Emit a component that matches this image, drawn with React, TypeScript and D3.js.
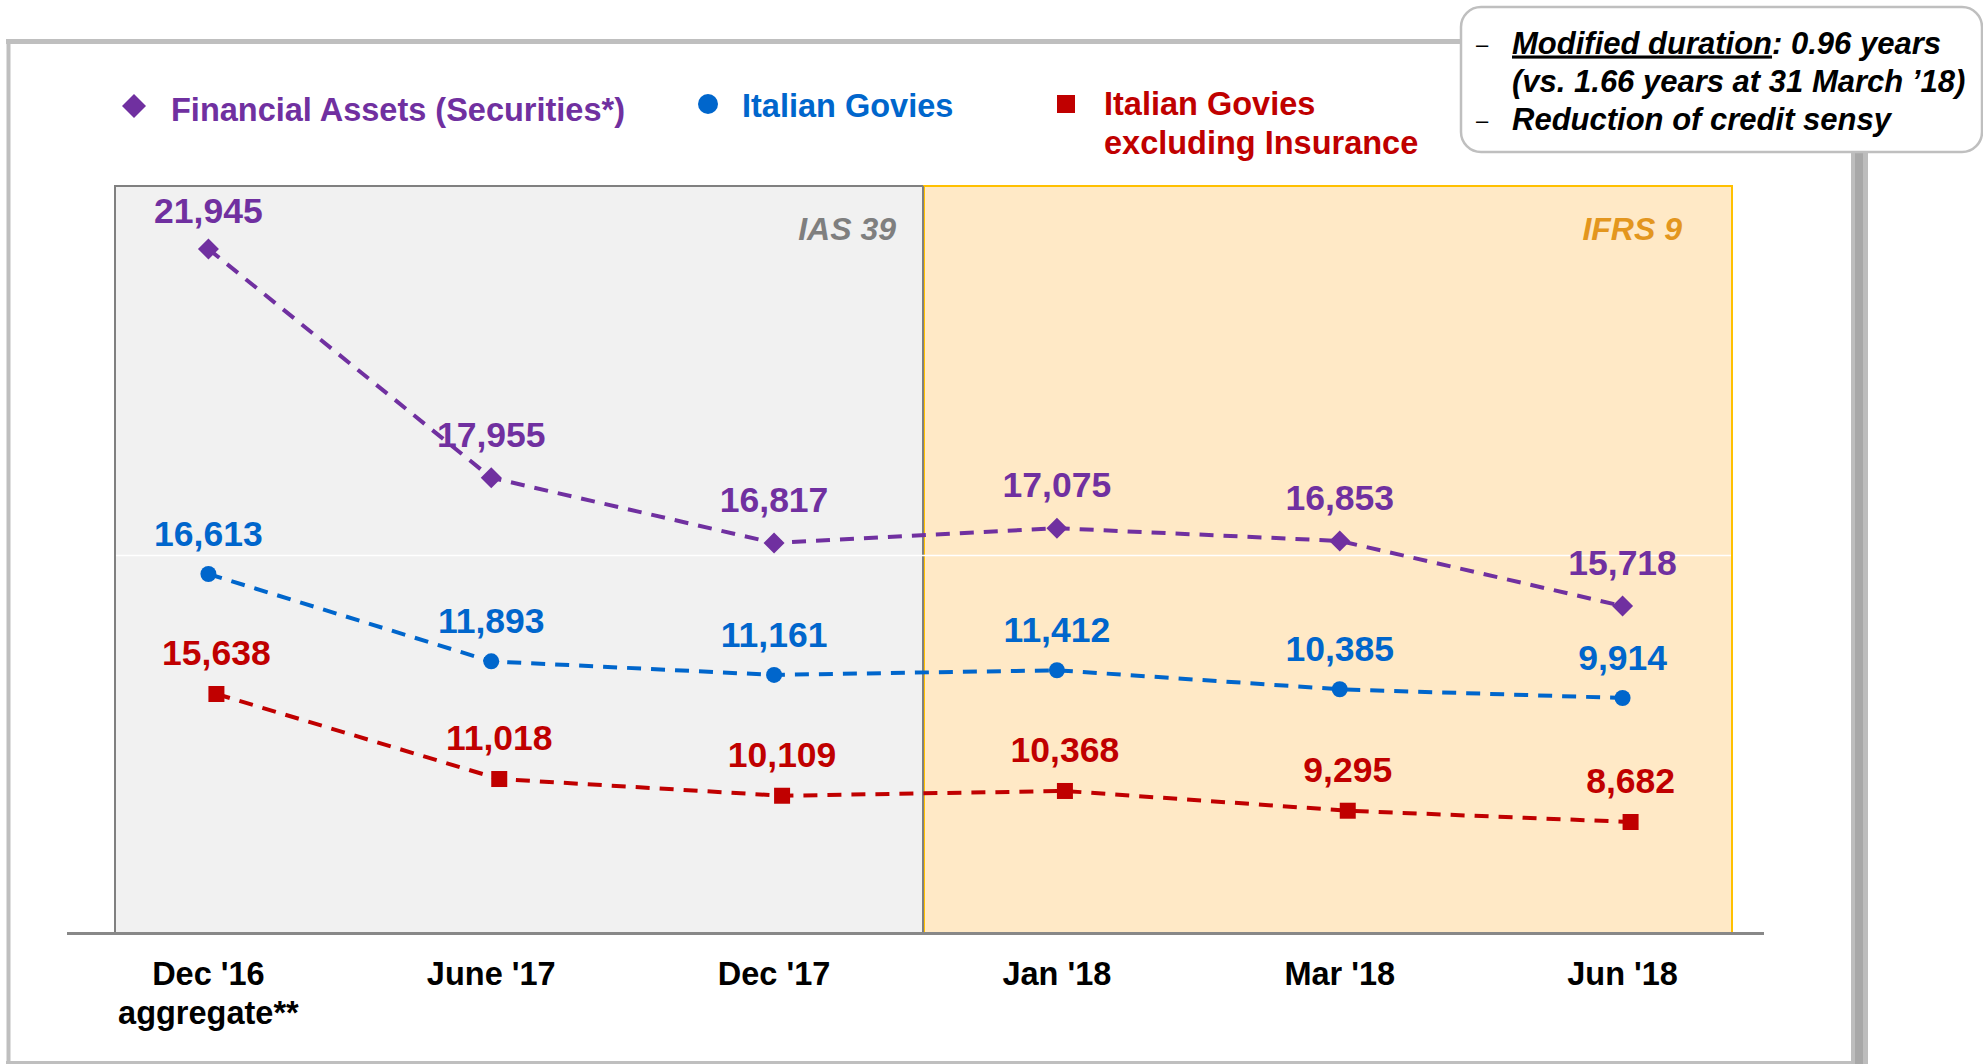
import React from "react";
import * as d3 from "d3";

const categories = ["Dec '16|aggregate**", "June '17", "Dec '17", "Jan '18", "Mar '18", "Jun '18"];
const financialAssets = [21945, 17955, 16817, 17075, 16853, 15718];
const italianGovies = [16613, 11893, 11161, 11412, 10385, 9914];
const goviesExInsurance = [15638, 11018, 10109, 10368, 9295, 8682];
const regimeLabels = ["IAS 39", "IFRS 9"];
const legendLabels = ["Financial Assets (Securities*)", "Italian Govies", "Italian Govies|excluding Insurance"];
const noteLines = [
  { dash: true, parts: [{ t: "Modified duration", u: true }, { t: ": 0.96 years", u: false }] },
  { dash: false, parts: [{ t: "(vs. 1.66 years at 31 March \u201918)", u: false }] },
  { dash: true, parts: [{ t: "Reduction of credit sensy", u: false }] },
];

const W = 1983;
const H = 1064;
const FONT = "'Liberation Sans', Arial, sans-serif";
const PURPLE = "#7030A0";
const BLUE = "#0066CC";
const RED = "#C00000";

// plot frame
const plotTop = 186;
const plotBottom = 933;
const plotLeft = 115;
const plotRight = 1732;
const divider = 923;

const x = d3.scaleBand<string>().domain(categories).range([67, 1764]).padding(0);
const cx = (c: string) => (x(c) ?? 0) + x.bandwidth() / 2;

// each series sits on its own vertical scale in the original slide
const yFin = d3.scaleLinear().domain([15718, 21945]).range([606, 249]);
const yGov = d3.scaleLinear().domain([9914, 16613]).range([698, 574]);
const yEx = d3.scaleLinear().domain([8682, 15638]).range([822, 694]);

const fmt = d3.format(",");

type Series = {
  values: number[];
  y: d3.ScaleLinear<number, number>;
  color: string;
  shape: "diamond" | "circle" | "square";
  dx: number;
  labelOff: number;
};

const series: Series[] = [
  { values: financialAssets, y: yFin, color: PURPLE, shape: "diamond", dx: 0, labelOff: 31 },
  { values: italianGovies, y: yGov, color: BLUE, shape: "circle", dx: 0, labelOff: 28 },
  { values: goviesExInsurance, y: yEx, color: RED, shape: "square", dx: 8, labelOff: 29 },
];

function Marker({ shape, px, py, color, size }: { shape: string; px: number; py: number; color: string; size: number }) {
  if (shape === "circle") return <circle cx={px} cy={py} r={size / 2} fill={color} />;
  if (shape === "square")
    return <rect x={px - size / 2} y={py - size / 2} width={size} height={size} fill={color} />;
  const s = size / Math.SQRT2;
  return (
    <rect x={-s / 2} y={-s / 2} width={s} height={s} fill={color} transform={`translate(${px},${py}) rotate(45)`} />
  );
}

export default function App() {
  return (
    <svg width={W} height={H} style={{ position: "absolute", left: 0, top: 0, background: "#fff" }} fontFamily={FONT}>
      {/* outer frame */}
      <line x1={6} x2={1462} y1={41.5} y2={41.5} stroke="#BFBFBF" strokeWidth={5} />
      <line x1={8.5} x2={8.5} y1={40} y2={1063} stroke="#BFBFBF" strokeWidth={4} />
      <line x1={6} x2={1856} y1={1062.5} y2={1062.5} stroke="#BFBFBF" strokeWidth={3} />
      <rect x={1851} y={150} width={17} height={H - 150} fill="#BDBDBD" />
      <rect x={1855} y={150} width={8} height={H - 150} fill="#A8A8A8" />

      {/* note box */}
      <rect x={1461} y={7} width={521} height={145} rx={20} fill="#fff" stroke="#BFBFBF" strokeWidth={2.5} />
      {noteLines.map((ln, i) => (
        <g key={i}>
          {ln.dash && (
            <text x={1476} y={52 + i * 38} fontSize={22} fill="#000">
              {"\u2013"}
            </text>
          )}
          <text x={1512} y={53.5 + i * 38} fontSize={31} fontWeight="bold" fontStyle="italic" fill="#000">
            {ln.parts.map((p, j) => (
              <tspan key={j} textDecoration={p.u ? "underline" : undefined}>
                {p.t}
              </tspan>
            ))}
          </text>
        </g>
      ))}

      {/* legend */}
      <Marker shape="diamond" px={134} py={106} color={PURPLE} size={24} />
      <text x={171} y={121} fontSize={32.5} fontWeight="bold" fill={PURPLE}>
        {legendLabels[0]}
      </text>
      <Marker shape="circle" px={708} py={104} color={BLUE} size={20} />
      <text x={742} y={117} fontSize={32.5} fontWeight="bold" fill={BLUE}>
        {legendLabels[1]}
      </text>
      <Marker shape="square" px={1066} py={104} color={RED} size={18} />
      {legendLabels[2].split("|").map((t, i) => (
        <text key={i} x={1104} y={115 + i * 39} fontSize={32.5} fontWeight="bold" fill={RED}>
          {t}
        </text>
      ))}

      {/* regime panels */}
      <rect x={plotLeft} y={plotTop} width={divider - plotLeft} height={plotBottom - plotTop} fill="#F1F1F1" stroke="#808080" strokeWidth={2} />
      <rect x={divider + 1} y={plotTop} width={plotRight - divider - 1} height={plotBottom - plotTop} fill="#FFE9C6" stroke="#FFC000" strokeWidth={2} />
      <line x1={divider} x2={divider} y1={plotTop} y2={plotBottom} stroke="#808080" strokeWidth={2} />
      <line x1={plotLeft + 1} x2={plotRight - 1} y1={555.5} y2={555.5} stroke="#fff" strokeWidth={1.5} />
      <text x={divider - 27} y={240} fontSize={32} fontWeight="bold" fontStyle="italic" fill="#7F7F7F" textAnchor="end">
        {regimeLabels[0]}
      </text>
      <text x={plotRight - 50} y={240} fontSize={32} fontWeight="bold" fontStyle="italic" fill="#E3961E" textAnchor="end">
        {regimeLabels[1]}
      </text>

      {/* axis */}
      <line x1={x.range()[0]} x2={x.range()[1]} y1={933.5} y2={933.5} stroke="#888888" strokeWidth={3} />
      {categories.map((c) =>
        c.split("|").map((t, i) => (
          <text key={c + i} x={cx(c)} y={985 + i * 39} fontSize={32.5} fontWeight="bold" fill="#000" textAnchor="middle">
            {t}
          </text>
        ))
      )}

      {/* series */}
      {series.map((s, si) => {
        const line = d3
          .line<number>()
          .x((_, i) => cx(categories[i]) + s.dx)
          .y((v) => s.y(v));
        return (
          <g key={si}>
            <path d={line(s.values) ?? ""} fill="none" stroke={s.color} strokeWidth={4} strokeDasharray="14 10" />
            {s.values.map((v, i) => (
              <Marker
                key={i}
                shape={s.shape}
                px={cx(categories[i]) + s.dx}
                py={s.y(v)}
                color={s.color}
                size={s.shape === "diamond" ? 21 : 16}
              />
            ))}
            {s.values.map((v, i) => (
              <text
                key={"l" + i}
                x={cx(categories[i]) + s.dx}
                y={Math.max(s.y(v) - s.labelOff, plotTop + 37)}
                fontSize={35.5}
                fontWeight="bold"
                fill={s.color}
                textAnchor="middle"
              >
                {fmt(v)}
              </text>
            ))}
          </g>
        );
      })}
    </svg>
  );
}
